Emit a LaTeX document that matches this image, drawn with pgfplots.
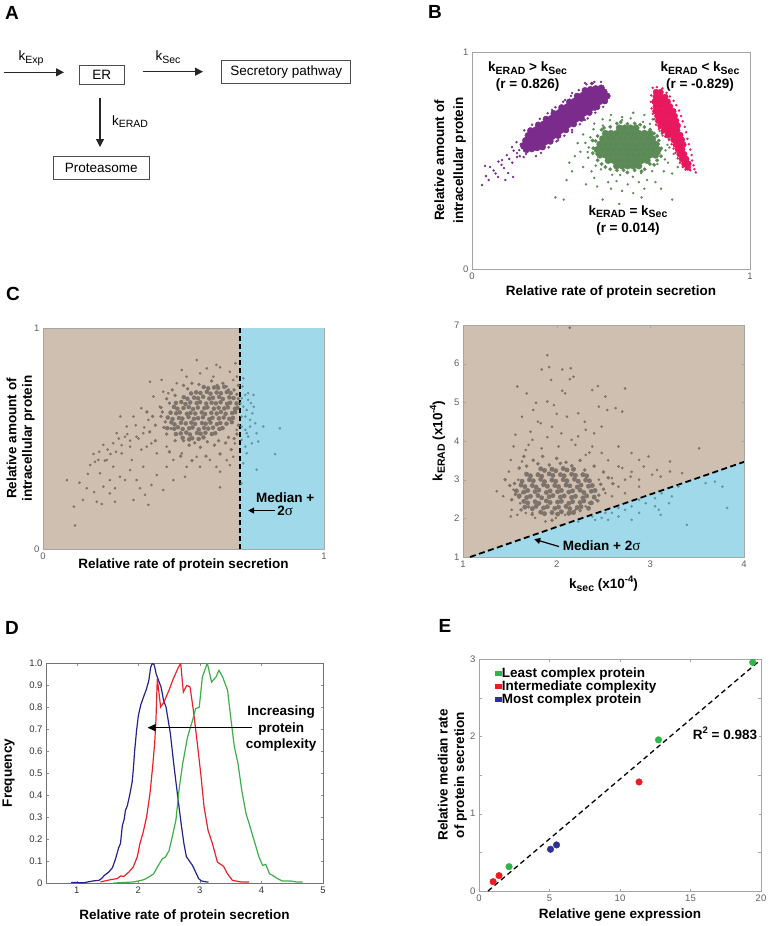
\documentclass[border=0pt]{standalone}
\usepackage{pgfplots}
\pgfplotsset{compat=1.18}
\usepackage{fontspec}
\setmainfont{Liberation Sans}
\newfontfamily\serifg{Liberation Serif}
\usetikzlibrary{arrows.meta}
\definecolor{tanc}{RGB}{206,191,176}
\definecolor{bluec}{RGB}{160,218,234}
\definecolor{dotc}{RGB}{125,115,106}
\definecolor{tealc}{RGB}{100,150,165}
\definecolor{purp}{RGB}{122,43,140}
\definecolor{gren}{RGB}{92,138,87}
\definecolor{pinkc}{RGB}{232,24,95}
\definecolor{dblue}{RGB}{35,35,140}
\definecolor{dred}{RGB}{232,35,40}
\definecolor{dgreen}{RGB}{60,175,75}
\definecolor{egreen}{RGB}{45,180,75}
\definecolor{ered}{RGB}{237,28,36}
\definecolor{eblue}{RGB}{46,49,146}
\definecolor{framec}{RGB}{165,165,165}
\definecolor{tickc}{RGB}{95,95,95}
\newcommand\lab{\fontsize{13.5}{15.5}\selectfont\bfseries}
\newcommand\dia{\fontsize{13.5}{15}\selectfont}
\newcommand\pl{\fontsize{19}{19}\selectfont\bfseries}
\newcommand\tickf{\fontsize{9.5}{10}\selectfont}
\newcommand\sub[1]{\raisebox{-0.35ex}{\fontsize{10.5}{10.5}\selectfont #1}}
\newcommand\sups[1]{\raisebox{0.85ex}{\fontsize{9.5}{9.5}\selectfont #1}}
\newcommand\sig{{\serifg\mdseries\fontsize{15}{15}\selectfont σ}}
\pgfplotsset{panel/.style={scale only axis, anchor=south west, axis line style={framec}, tick style={framec}, major tick length=2.5pt, tick label style={font=\tickf, text=tickc}, /pgf/number format/assume math mode=true, label style={font=\lab}}}
\begin{document}
\begin{tikzpicture}
\path[use as bounding box] (0pt,0pt) rectangle (770pt,-926pt);
% panel letters
\node[font=\pl] at (12pt,-13pt) {A};
\node[font=\pl] at (435pt,-12pt) {B};
\node[font=\pl] at (13pt,-294pt) {C};
\node[font=\pl] at (12pt,-628pt) {D};
\node[font=\pl] at (445pt,-626pt) {E};
% ---------- A diagram ----------
\draw[line width=1.1pt, draw=black!85, -{Triangle[length=8pt,width=8pt]}] (4pt,-72.3pt) -- (64pt,-72.3pt);
\node[font=\dia] at (31pt,-58pt) {k\sub{Exp}};
\node[draw=black!70, line width=0.8pt, minimum width=45pt, minimum height=19pt, inner sep=0pt, font=\dia] at (101.7pt,-74.7pt) {ER};
\draw[line width=1.1pt, draw=black!85, -{Triangle[length=8pt,width=8pt]}] (143pt,-71.7pt) -- (203pt,-71.7pt);
\node[font=\dia] at (168pt,-57pt) {k\sub{Sec}};
\node[draw=black!70, line width=0.8pt, minimum width=129pt, minimum height=22.5pt, inner sep=0pt, font=\dia] at (286.3pt,-72pt) {Secretory pathway};
\draw[line width=1.1pt, draw=black!85, -{Triangle[length=8pt,width=8pt]}] (100pt,-98pt) -- (100pt,-147pt);
\node[font=\dia] at (130pt,-121.7pt) {k\sub{ERAD}};
\node[draw=black!70, line width=0.8pt, minimum width=96pt, minimum height=22.5pt, inner sep=0pt, font=\dia] at (101.3pt,-168pt) {Proteasome};
% ---------- B ----------
\begin{axis}[panel, at={(472pt,-269pt)}, width=278pt, height=217pt, xmin=0, xmax=1, ymin=0, ymax=1, xtick={0,1}, ytick={0,1}, major tick length=0pt,
 xlabel={Relative rate of protein secretion}, xlabel style={at={(axis description cs:0.5,-0.106)}, anchor=center},
 ylabel={Relative amount of\\intracellular protein}, ylabel style={at={(axis description cs:-0.079,0.5)}, anchor=center, align=center, font=\fontsize{13.5}{19}\selectfont\bfseries}]
% green halo
\addplot[only marks, mark=*, mark size=1pt, color=gren] coordinates {
(0.703,0.572)(0.686,0.615)(0.675,0.636)(0.640,0.669)(0.615,0.678)(0.571,0.694)(0.540,0.687)(0.496,0.686)(0.471,0.661)(0.437,0.644)(0.426,0.607)(0.408,0.581)(0.416,0.539)(0.418,0.513)(0.445,0.476)(0.464,0.459)(0.504,0.434)(0.533,0.433)(0.579,0.425)(0.608,0.442)(0.648,0.451)(0.667,0.484)(0.694,0.505)(0.696,0.547)
(0.30,0.33)(0.33,0.32)(0.34,0.41)(0.41,0.39)(0.47,0.32)(0.72,0.32)(0.68,0.37)(0.705,0.49)(0.54,0.70)(0.38,0.58)(0.40,0.47)(0.37,0.52)(0.36,0.45)(0.44,0.42)(0.45,0.38)(0.50,0.37)(0.54,0.36)(0.58,0.35)(0.62,0.37)(0.66,0.40)(0.72,0.44)(0.725,0.53)(0.71,0.60)(0.62,0.71)(0.58,0.72)(0.50,0.71)(0.44,0.67)(0.40,0.62)(0.39,0.54)(0.43,0.45)(0.49,0.40)(0.56,0.39)(0.63,0.41)(0.69,0.45)(0.71,0.56)(0.69,0.64)(0.65,0.69)(0.47,0.69)(0.42,0.56)(0.52,0.405)(0.60,0.40)(0.35,0.49)(0.74,0.47)(0.53,0.30)(0.61,0.33)};
% green medium ring
\addplot[only marks, mark=*, mark size=1.7pt, color=gren] coordinates {
(0.681,0.556)(0.672,0.592)(0.666,0.613)(0.641,0.643)(0.620,0.654)(0.585,0.671)(0.559,0.669)(0.521,0.671)(0.497,0.655)(0.466,0.642)(0.452,0.613)(0.434,0.592)(0.436,0.557)(0.434,0.534)(0.452,0.501)(0.466,0.484)(0.497,0.460)(0.521,0.455)(0.559,0.445)(0.585,0.455)(0.621,0.460)(0.640,0.484)(0.666,0.501)(0.672,0.534)
(0.67,0.575)(0.655,0.625)(0.605,0.665)(0.535,0.677)(0.475,0.65)(0.445,0.59)(0.45,0.53)(0.48,0.47)(0.545,0.455)(0.61,0.45)(0.655,0.48)(0.68,0.52)};
% green core
\addplot[only marks, mark=*, mark size=3.3pt, color=gren] coordinates {
(0.52,0.475)(0.54,0.475)(0.56,0.475)(0.58,0.475)(0.60,0.475)
(0.49,0.50)(0.51,0.50)(0.53,0.50)(0.55,0.50)(0.57,0.50)(0.59,0.50)(0.61,0.50)(0.63,0.50)
(0.46,0.525)(0.48,0.525)(0.50,0.525)(0.52,0.525)(0.54,0.525)(0.56,0.525)(0.58,0.525)(0.60,0.525)(0.62,0.525)(0.64,0.525)(0.66,0.525)
(0.45,0.55)(0.47,0.55)(0.49,0.55)(0.51,0.55)(0.53,0.55)(0.55,0.55)(0.57,0.55)(0.59,0.55)(0.61,0.55)(0.63,0.55)(0.65,0.55)(0.67,0.55)
(0.46,0.575)(0.48,0.575)(0.50,0.575)(0.52,0.575)(0.54,0.575)(0.56,0.575)(0.58,0.575)(0.60,0.575)(0.62,0.575)(0.64,0.575)(0.66,0.575)
(0.47,0.60)(0.49,0.60)(0.51,0.60)(0.53,0.60)(0.55,0.60)(0.57,0.60)(0.59,0.60)(0.61,0.60)(0.63,0.60)(0.65,0.60)
(0.48,0.625)(0.50,0.625)(0.52,0.625)(0.54,0.625)(0.56,0.625)(0.58,0.625)(0.60,0.625)(0.62,0.625)(0.64,0.625)
(0.53,0.65)(0.55,0.65)(0.57,0.65)(0.59,0.65)};
% purple halo
\addplot[only marks, mark=*, mark size=1pt, color=purp] coordinates {
(0.188,0.639)(0.248,0.535)(0.216,0.665)(0.276,0.561)(0.244,0.692)(0.304,0.588)(0.272,0.718)(0.332,0.614)(0.300,0.745)(0.360,0.641)(0.328,0.771)(0.388,0.667)(0.356,0.798)(0.416,0.694)(0.384,0.824)(0.444,0.720)(0.412,0.851)(0.472,0.747)
(0.036,0.387)(0.047,0.475)(0.108,0.502)(0.094,0.424)(0.13,0.442)(0.12,0.41)(0.148,0.424)(0.144,0.562)(0.162,0.516)(0.18,0.557)(0.186,0.516)(0.20,0.54)(0.406,0.857)(0.44,0.862)(0.464,0.862)(0.486,0.80)(0.25,0.65)(0.227,0.627)(0.288,0.733)(0.335,0.779)(0.36,0.811)(0.31,0.594)(0.36,0.63)(0.406,0.687)(0.442,0.733)(0.188,0.594)(0.16,0.585)(0.23,0.52)(0.26,0.56)(0.29,0.60)(0.33,0.64)(0.37,0.68)(0.41,0.72)(0.45,0.76)(0.48,0.78)(0.21,0.62)(0.25,0.67)(0.28,0.70)(0.32,0.74)(0.39,0.80)(0.42,0.83)(0.35,0.78)
(0.162,0.534)(0.150,0.545)(0.172,0.520)(0.134,0.507)(0.145,0.49)(0.125,0.525)(0.106,0.48)(0.115,0.465)(0.095,0.495)(0.078,0.454)(0.085,0.44)(0.065,0.47)(0.05,0.428)(0.06,0.41)(0.175,0.575)(0.17,0.548)(0.195,0.53)};
% purple medium edge
\addplot[only marks, mark=*, mark size=1.7pt, color=purp] coordinates {
(0.207,0.643)(0.257,0.557)(0.263,0.696)(0.313,0.610)(0.319,0.749)(0.369,0.663)(0.375,0.802)(0.425,0.716)(0.431,0.855)(0.481,0.769)(0.235,0.669)(0.285,0.583)(0.291,0.722)(0.341,0.636)(0.347,0.775)(0.397,0.689)(0.403,0.828)(0.453,0.742)};
% purple core
\addplot[only marks, mark=*, mark size=3.3pt, color=purp] coordinates {
(0.185,0.569)(0.195,0.551)
(0.204,0.573)(0.193,0.592)(0.215,0.554)
(0.213,0.596)(0.223,0.578)(0.202,0.615)(0.234,0.559)
(0.232,0.600)(0.221,0.619)(0.243,0.581)(0.211,0.637)(0.253,0.563)
(0.241,0.622)(0.251,0.604)(0.230,0.641)(0.262,0.585)
(0.260,0.626)(0.249,0.645)(0.271,0.607)(0.239,0.663)(0.281,0.589)
(0.269,0.649)(0.279,0.631)(0.258,0.668)(0.290,0.612)
(0.288,0.653)(0.277,0.672)(0.299,0.634)(0.267,0.690)(0.309,0.616)
(0.297,0.675)(0.307,0.657)(0.286,0.694)(0.318,0.638)
(0.316,0.679)(0.305,0.698)(0.327,0.660)(0.295,0.716)(0.337,0.642)
(0.325,0.702)(0.335,0.684)(0.314,0.721)(0.346,0.665)
(0.344,0.706)(0.333,0.725)(0.355,0.687)(0.323,0.743)(0.365,0.669)
(0.353,0.728)(0.363,0.710)(0.342,0.747)(0.374,0.691)
(0.372,0.732)(0.361,0.751)(0.383,0.713)(0.351,0.769)(0.393,0.695)
(0.381,0.755)(0.391,0.737)(0.370,0.774)(0.402,0.718)
(0.400,0.759)(0.389,0.778)(0.411,0.740)(0.379,0.796)(0.421,0.722)
(0.409,0.781)(0.419,0.763)(0.398,0.800)(0.430,0.744)
(0.428,0.785)(0.417,0.804)(0.439,0.766)(0.407,0.822)(0.449,0.748)
(0.437,0.808)(0.447,0.790)(0.426,0.827)(0.458,0.771)
(0.456,0.812)(0.445,0.831)(0.467,0.793)(0.477,0.775)
(0.465,0.834)(0.475,0.816)(0.486,0.797)};
% pink halo
\addplot[only marks, mark=*, mark size=1pt, color=pinkc] coordinates {
(0.650,0.835)(0.665,0.838)(0.685,0.832)(0.700,0.812)(0.712,0.795)(0.725,0.775)(0.735,0.755)(0.745,0.730)(0.752,0.705)(0.758,0.68)(0.765,0.655)(0.770,0.63)(0.775,0.60)(0.780,0.575)(0.785,0.55)(0.790,0.525)(0.792,0.50)(0.797,0.478)(0.800,0.46)(0.645,0.80)(0.643,0.77)(0.646,0.74)(0.650,0.715)(0.655,0.69)(0.662,0.665)(0.672,0.645)(0.683,0.625)(0.695,0.61)(0.708,0.595)(0.718,0.575)(0.725,0.555)(0.732,0.535)(0.740,0.51)(0.748,0.49)(0.758,0.47)(0.768,0.458)(0.785,0.455)(0.805,0.445)};
% pink core
\addplot[only marks, mark=*, mark size=3.0pt, color=pinkc] coordinates {
(0.662,0.815)(0.678,0.815)
(0.661,0.793)(0.678,0.793)(0.695,0.793)
(0.657,0.771)(0.672,0.771)(0.688,0.771)(0.704,0.771)
(0.661,0.749)(0.678,0.749)(0.695,0.749)(0.712,0.749)
(0.660,0.727)(0.676,0.727)(0.692,0.727)(0.708,0.727)(0.724,0.727)
(0.667,0.705)(0.683,0.705)(0.699,0.705)(0.715,0.705)(0.729,0.705)
(0.670,0.683)(0.686,0.683)(0.702,0.683)(0.718,0.683)(0.734,0.683)
(0.678,0.661)(0.694,0.661)(0.710,0.661)(0.726,0.661)(0.740,0.661)
(0.690,0.639)(0.706,0.639)(0.722,0.639)(0.738,0.639)
(0.704,0.617)(0.720,0.617)(0.736,0.617)(0.749,0.617)
(0.725,0.595)(0.741,0.595)(0.755,0.595)
(0.733,0.573)(0.748,0.573)(0.760,0.573)
(0.741,0.551)(0.756,0.551)
(0.747,0.529)(0.763,0.529)
(0.755,0.507)(0.770,0.507)
(0.764,0.485)(0.778,0.485)
(0.776,0.468)};
\node[align=center, font=\fontsize{13.5}{17}\selectfont\bfseries] at (axis cs:0.20,0.887) {k\sub{ERAD} > k\sub{Sec}\\(r = 0.826)};
\node[align=center, font=\fontsize{13.5}{17}\selectfont\bfseries] at (axis cs:0.82,0.887) {k\sub{ERAD} < k\sub{Sec}\\(r = -0.829)};
\node[align=center, font=\fontsize{13.5}{17}\selectfont\bfseries] at (axis cs:0.561,0.2235) {k\sub{ERAD} = k\sub{Sec}\\(r = 0.014)};
\end{axis}
% ---------- C left ----------
\begin{axis}[panel, at={(43pt,-549pt)}, width=281pt, height=221pt, xmin=0, xmax=1, ymin=0, ymax=1, xtick={0,1}, ytick={0,1}, major tick length=0pt,
 axis background/.style={fill=tanc},
 xlabel={Relative rate of protein secretion}, xlabel style={at={(axis description cs:0.5,-0.072)}, anchor=center},
 ylabel={Relative amount of\\intracellular protein}, ylabel style={at={(axis description cs:-0.080,0.5)}, anchor=center, align=center, font=\fontsize{13.5}{15.5}\selectfont\bfseries}]
\addplot[fill=bluec, draw=none] coordinates {(0.7,0)(1,0)(1,1)(0.7,1)(0.7,0)};
\addplot[only marks, mark=*, mark size=1.1pt, color=dotc] coordinates {
(0.547,0.855)(0.617,0.833)(0.630,0.822)(0.381,0.757)(0.422,0.765)(0.494,0.810)(0.583,0.817)(0.665,0.802)(0.677,0.765)(0.428,0.712)(0.393,0.690)(0.350,0.637)(0.322,0.600)(0.298,0.554)(0.262,0.524)(0.250,0.479)(0.215,0.471)(0.197,0.403)(0.185,0.395)(0.168,0.380)(0.203,0.343)(0.238,0.312)(0.256,0.275)(0.292,0.312)(0.310,0.357)(0.345,0.275)(0.322,0.222)(0.363,0.245)(0.375,0.200)(0.428,0.267)(0.386,0.290)(0.464,0.312)(0.505,0.327)(0.559,0.372)(0.617,0.372)(0.630,0.350)(0.630,0.279)(0.654,0.402)(0.677,0.417)(0.464,0.403)(0.405,0.433)(0.369,0.463)(0.333,0.508)(0.292,0.508)(0.275,0.600)(0.085,0.312)(0.114,0.106)(0.110,0.192)(0.142,0.222)(0.156,0.275)(0.182,0.257)(0.191,0.214)(0.209,0.204)(0.238,0.252)(0.256,0.214)(0.215,0.282)(0.274,0.327)(0.250,0.372)(0.227,0.403)(0.280,0.433)(0.310,0.463)(0.357,0.524)(0.375,0.584)(0.416,0.644)(0.446,0.705)(0.476,0.750)(0.511,0.780)(0.559,0.795)(0.606,0.780)(0.654,0.735)(0.386,0.478)(0.440,0.463)(0.494,0.433)(0.547,0.417)(0.594,0.403)(0.665,0.380)(0.683,0.478)(0.689,0.539)(0.511,0.372)(0.440,0.372)(0.405,0.335)(0.357,0.372)(0.316,0.403)(0.333,0.312)
(0.36,0.55)(0.34,0.50)(0.31,0.49)(0.28,0.47)(0.26,0.44)(0.24,0.43)(0.22,0.40)(0.35,0.45)(0.2,0.44)(0.18,0.43)(0.16,0.34)(0.13,0.3)(0.33,0.56)(0.3,0.52)(0.27,0.50)(0.23,0.45)(0.69,0.78)(0.685,0.84)};
\addplot[only marks, mark=*, mark size=1.5pt, color=dotc] coordinates {
(0.43,0.55)(0.44,0.68)(0.46,0.72)(0.50,0.74)(0.53,0.75)(0.60,0.76)(0.64,0.75)(0.68,0.72)(0.69,0.70)(0.44,0.52)(0.47,0.49)(0.52,0.47)(0.56,0.46)(0.61,0.47)(0.65,0.48)(0.68,0.50)(0.42,0.60)(0.42,0.64)(0.40,0.56)(0.38,0.53)(0.40,0.49)(0.45,0.44)(0.49,0.42)(0.53,0.40)(0.58,0.42)(0.63,0.43)(0.67,0.45)
(0.435,0.575)(0.425,0.62)(0.45,0.66)(0.47,0.695)(0.515,0.725)(0.555,0.745)(0.62,0.74)(0.66,0.72)(0.695,0.68)(0.695,0.56)(0.69,0.52)(0.66,0.505)(0.625,0.49)(0.585,0.485)(0.54,0.48)(0.5,0.49)(0.475,0.52)(0.455,0.545)(0.39,0.60)(0.37,0.62)(0.695,0.74)};
\addplot[only marks, mark=*, mark size=2.0pt, color=dotc] coordinates {
(0.497,0.503)(0.520,0.496)(0.531,0.501)(0.554,0.498)(0.571,0.505)
(0.473,0.520)(0.490,0.523)(0.510,0.527)(0.523,0.518)(0.548,0.525)(0.561,0.522)(0.578,0.526)(0.601,0.520)(0.613,0.524)
(0.442,0.547)(0.467,0.544)(0.480,0.551)(0.497,0.543)(0.520,0.546)(0.532,0.550)(0.554,0.541)(0.573,0.548)(0.588,0.545)(0.605,0.549)(0.628,0.543)(0.639,0.547)
(0.457,0.573)(0.468,0.564)(0.491,0.571)(0.508,0.568)(0.528,0.572)(0.541,0.566)(0.566,0.570)(0.579,0.567)(0.596,0.572)(0.619,0.565)(0.631,0.570)(0.653,0.567)(0.672,0.574)
(0.444,0.595)(0.461,0.588)(0.484,0.593)(0.496,0.590)(0.518,0.597)(0.537,0.589)(0.552,0.592)(0.569,0.596)(0.592,0.587)(0.603,0.594)(0.626,0.591)(0.643,0.595)(0.663,0.589)(0.676,0.593)
(0.454,0.617)(0.474,0.614)(0.487,0.618)(0.512,0.612)(0.525,0.616)(0.542,0.613)(0.565,0.618)(0.577,0.611)(0.599,0.616)(0.618,0.613)(0.633,0.620)(0.650,0.612)(0.673,0.615)(0.684,0.619)
(0.466,0.643)(0.478,0.635)(0.500,0.638)(0.519,0.642)(0.534,0.633)(0.551,0.640)(0.574,0.637)(0.585,0.641)(0.608,0.635)(0.625,0.639)(0.645,0.636)(0.658,0.641)(0.683,0.634)(0.692,0.639)
(0.473,0.661)(0.492,0.665)(0.507,0.656)(0.524,0.663)(0.547,0.660)(0.559,0.664)(0.581,0.658)(0.600,0.662)(0.615,0.659)(0.632,0.664)(0.655,0.657)(0.666,0.662)(0.689,0.659)
(0.501,0.687)(0.514,0.680)(0.538,0.685)(0.552,0.682)(0.570,0.689)(0.592,0.681)(0.605,0.684)(0.627,0.688)(0.640,0.679)(0.663,0.686)(0.678,0.683)
(0.527,0.704)(0.545,0.709)(0.560,0.706)(0.583,0.711)(0.596,0.703)(0.618,0.708)(0.633,0.705)(0.654,0.710)(0.668,0.706)
(0.572,0.733)(0.588,0.727)(0.609,0.731)(0.623,0.729)(0.645,0.734)};
\addplot[only marks, mark=*, mark size=1.1pt, color=tealc] coordinates {
(0.713,0.772)(0.71,0.735)(0.72,0.697)(0.73,0.675)(0.74,0.66)(0.745,0.614)(0.725,0.629)(0.713,0.644)(0.707,0.599)(0.737,0.584)(0.755,0.569)(0.76,0.524)(0.73,0.509)(0.72,0.539)(0.707,0.494)(0.72,0.463)(0.743,0.478)(0.766,0.486)(0.784,0.554)(0.843,0.546)(0.826,0.429)(0.76,0.359)(0.725,0.433)(0.713,0.388)(0.707,0.297)(0.72,0.599)(0.737,0.554)(0.75,0.644)(0.73,0.705)(0.707,0.682)(0.749,0.697)(0.707,0.554)(0.725,0.524)(0.703,0.659)};
\addplot[black, line width=1.6pt, dash pattern=on 5pt off 3pt] coordinates {(0.7,0)(0.7,1)};
\node[align=center, font=\fontsize{13.5}{13.3}\selectfont\bfseries] at (axis cs:0.862,0.203) {Median +\\2\sig};
\draw[line width=1.1pt, -{Triangle[length=6pt,width=6pt]}] (axis cs:0.826,0.174) -- (axis cs:0.730,0.174);
\end{axis}
% ---------- C right ----------
\begin{axis}[panel, at={(463pt,-557pt)}, width=281pt, height=232pt, xmin=1, xmax=4, ymin=1, ymax=7, xtick={1,2,3,4}, ytick={1,2,3,4,5,6,7},
 axis background/.style={fill=tanc},
 xlabel={k\sub{sec} (x10\sups{-4})}, xlabel style={at={(axis description cs:0.5,-0.116)}, anchor=center},
 ylabel={k\sub{ERAD} (x10\sups{-4})}, ylabel style={at={(axis description cs:-0.091,0.5)}, anchor=center}]
\addplot[fill=bluec, draw=none] coordinates {(1.075,1)(4,1)(4,3.46)(1.075,1)};
\addplot[only marks, mark=*, mark size=1.1pt, color=dotc] coordinates {
(2.14,6.93)(1.90,6.22)(1.92,5.91)(1.84,5.85)(1.94,5.58)(2.06,5.85)(2.15,5.88)(2.14,5.60)(2.18,5.66)(2.06,5.30)(2.09,5.23)(1.97,4.93)(1.90,5.02)(1.78,4.99)(1.68,5.23)(1.58,5.41)(1.63,4.63)(1.72,4.24)(1.83,4.46)(1.95,4.37)(2.11,4.63)(2.23,4.72)(2.31,4.29)(2.45,4.89)(2.38,5.32)(2.44,5.42)(2.52,5.15)(2.54,4.80)(2.63,4.85)(2.70,4.76)(2.73,5.36)(2.48,4.37)(2.40,4.20)(2.23,4.12)(1.56,4.16)(1.54,3.86)(1.51,3.51)(1.49,3.21)(1.36,2.70)(1.43,2.57)(1.54,2.74)(1.52,2.22)(1.51,2.05)(1.58,2.09)(1.74,2.14)(2.66,3.86)(2.80,3.69)(2.88,3.51)(2.93,3.34)(3.02,3.13)(3.11,3.08)(3.21,3.21)(3.34,3.17)(3.52,3.81)(3.21,3.47)(3.07,3.25)(2.98,3.60)(2.79,3.08)(2.66,3.34)(2.48,3.69)(2.38,3.86)(2.31,3.64)(2.16,4.03)(2.02,3.86)(1.84,3.81)(1.74,4.03)(1.67,3.77)(1.63,3.47)(1.67,3.17)(1.59,3.00)(1.63,2.65)(1.61,2.39)(1.67,2.14)(1.77,2.01)(1.88,1.92)(1.99,2.01)(2.09,2.09)(2.66,2.82)(2.52,2.65)(2.45,3.00)(2.59,3.04)(2.73,3.00)(2.88,3.00)(2.88,2.82)(2.73,2.65)(2.31,2.31)(2.20,2.22)(2.42,2.48)(2.59,2.57)
(1.7,3.9)(1.9,4.1)(2.05,4.2)(2.2,3.9)(2.35,3.7)(2.55,3.5)(2.7,3.3)(2.8,3.2)(1.8,4.5)(2.0,4.7)(2.3,4.5)(1.75,4.8)};
\addplot[only marks, mark=*, mark size=1.6pt, color=dotc] coordinates {
(1.55,2.9)(1.6,3.3)(1.65,3.6)(1.75,3.5)(1.85,3.6)(2.0,3.55)(2.1,3.45)(2.25,3.5)(2.4,3.35)(2.5,3.2)(2.55,3.05)(2.6,2.9)(2.5,2.75)(2.45,2.6)(2.35,2.4)(2.25,2.2)(2.15,2.15)(1.95,1.95)(1.7,2.3)(1.6,2.55)(1.5,2.85)(1.45,3.0)(1.80,3.41)(1.92,3.38)(2.04,3.42)(2.16,3.36)(1.68,3.35)(2.3,3.25)(1.56,2.62)(1.52,2.48)(1.62,2.22)(1.74,2.10)(2.47,2.88)(2.44,2.45)};
\addplot[only marks, mark=*, mark size=2.2pt, color=dotc] coordinates {
(1.83,2.16)(1.87,2.12)(1.95,2.15)(2.01,2.11)(2.05,2.17)(2.13,2.13)(2.18,2.15)
(1.66,2.29)(1.74,2.25)(1.78,2.31)(1.86,2.27)(1.90,2.30)(1.98,2.26)(2.02,2.29)(2.10,2.31)(2.14,2.25)(2.22,2.28)(2.26,2.30)(2.34,2.26)
(1.65,2.44)(1.69,2.40)(1.77,2.43)(1.81,2.39)(1.89,2.45)(1.93,2.41)(2.01,2.42)(2.05,2.44)(2.13,2.39)(2.17,2.43)(2.25,2.41)(2.29,2.45)(2.37,2.40)
(1.60,2.58)(1.68,2.54)(1.72,2.57)(1.80,2.59)(1.84,2.53)(1.92,2.56)(1.96,2.59)(2.04,2.55)(2.08,2.58)(2.16,2.54)(2.20,2.57)(2.28,2.53)(2.32,2.58)(2.40,2.55)
(1.57,2.71)(1.65,2.68)(1.69,2.72)(1.77,2.69)(1.81,2.73)(1.89,2.67)(1.93,2.71)(2.01,2.69)(2.05,2.72)(2.13,2.68)(2.17,2.71)(2.25,2.73)(2.29,2.67)(2.37,2.70)(2.41,2.72)
(1.62,2.86)(1.66,2.82)(1.74,2.85)(1.78,2.81)(1.86,2.87)(1.90,2.83)(1.98,2.85)(2.02,2.82)(2.10,2.86)(2.14,2.84)(2.22,2.81)(2.26,2.86)(2.34,2.83)(2.38,2.85)
(1.63,2.96)(1.71,3.00)(1.75,2.97)(1.83,3.01)(1.87,2.95)(1.95,2.99)(1.99,2.96)(2.07,3.00)(2.11,2.97)(2.19,3.01)(2.23,2.96)(2.31,2.99)(2.35,2.97)
(1.68,3.14)(1.72,3.10)(1.80,3.13)(1.84,3.09)(1.92,3.15)(1.96,3.11)(2.04,3.13)(2.08,3.10)(2.16,3.14)(2.20,3.11)(2.28,3.13)(2.32,3.10)
(1.83,3.28)(1.87,3.24)(1.95,3.27)(1.99,3.23)(2.07,3.29)(2.11,3.25)(2.18,3.27)};
\addplot[only marks, mark=*, mark size=1.1pt, color=tealc] coordinates {
(2.23,1.92)(2.38,2.05)(2.52,2.14)(2.66,2.27)(2.80,2.31)(2.95,2.39)(3.05,2.52)(3.12,2.65)(3.11,2.09)(3.09,2.22)(2.88,2.14)(2.73,2.22)(2.59,2.14)(2.48,2.01)(2.41,1.96)(2.55,1.96)(2.66,2.05)(3.39,1.83)(3.69,2.95)(3.77,2.82)(3.82,2.27)(3.59,2.91)(3.30,2.82)(3.23,2.57)(2.80,1.96)(2.88,2.48)(3.05,2.31)(3.20,2.39)};
\addplot[black, line width=1.8pt, dash pattern=on 6pt off 3.5pt] coordinates {(1.075,1)(4,3.46)};
\node[font=\lab] at (axis cs:2.48,1.29) {Median + 2\sig};
\draw[line width=1.2pt, -{Triangle[length=6pt,width=6pt]}] (axis cs:2.025,1.27) -- (axis cs:1.76,1.46);
\end{axis}
% ---------- D ----------
\begin{axis}[panel, at={(46pt,-883pt)}, width=277pt, height=220pt, xmin=0.5, xmax=5, ymin=0, ymax=1,
 xtick={1,2,3,4,5}, ytick={0,0.1,0.2,0.3,0.4,0.5,0.6,0.7,0.8,0.9,1}, yticklabels={0,0.1,0.2,0.3,0.4,0.5,0.6,0.7,0.8,0.9,1.0},
 axis line style={black!55}, tick style={black!45}, tick label style={text=black!80},
 xlabel={Relative rate of protein secretion}, xlabel style={at={(axis description cs:0.5,-0.148)}, anchor=center},
 ylabel={Frequency}, ylabel style={at={(axis description cs:-0.135,0.5)}, anchor=center}]
\addplot[dblue, line width=1.2pt] coordinates {
(0.91,0.003)(1.00,0.002)(1.11,0.001)(1.20,0.006)(1.28,0.010)(1.36,0.012)(1.40,0.020)(1.45,0.035)(1.52,0.05)(1.58,0.07)(1.63,0.11)(1.68,0.16)(1.71,0.18)(1.74,0.26)(1.77,0.29)(1.79,0.33)(1.82,0.35)(1.86,0.40)(1.90,0.46)(1.92,0.52)(1.94,0.60)(1.97,0.69)(2.00,0.76)(2.04,0.81)(2.09,0.85)(2.13,0.88)(2.17,0.92)(2.20,0.98)(2.23,1.00)(2.26,0.99)(2.29,0.95)(2.33,0.92)(2.37,0.89)(2.41,0.83)(2.45,0.80)(2.52,0.68)(2.58,0.53)(2.65,0.37)(2.70,0.26)(2.74,0.18)(2.78,0.12)(2.83,0.10)(2.88,0.08)(2.93,0.05)(2.98,0.02)(3.02,0.01)(3.08,0.006)(3.14,0.004)};
\addplot[dred, line width=1.2pt] coordinates {
(1.385,0.005)(1.548,0.015)(1.657,0.02)(1.711,0.032)(1.765,0.03)(1.847,0.05)(1.917,0.073)(1.982,0.118)(2.026,0.179)(2.080,0.232)(2.134,0.30)(2.189,0.406)(2.232,0.527)(2.265,0.633)(2.286,0.739)(2.308,0.929)(2.362,0.80)(2.417,0.823)(2.498,0.876)(2.569,0.929)(2.634,0.97)(2.688,1.0)(2.731,0.868)(2.786,0.898)(2.840,0.891)(2.894,0.785)(2.959,0.633)(3.014,0.497)(3.068,0.345)(3.133,0.239)(3.204,0.179)(3.285,0.095)(3.383,0.076)(3.448,0.042)(3.529,0.012)(3.665,0.005)(3.800,0.005)};
\addplot[dgreen, line width=1.2pt] coordinates {
(1.60,0.0)(1.75,0.002)(1.93,0.005)(2.09,0.015)(2.17,0.027)(2.25,0.042)(2.31,0.073)(2.39,0.11)(2.44,0.118)(2.50,0.148)(2.55,0.209)(2.61,0.285)(2.66,0.421)(2.72,0.542)(2.80,0.664)(2.88,0.739)(2.93,0.792)(2.99,0.80)(3.04,0.936)(3.12,1.0)(3.19,0.914)(3.26,0.936)(3.31,0.967)(3.37,0.936)(3.45,0.876)(3.50,0.755)(3.56,0.618)(3.62,0.542)(3.68,0.421)(3.75,0.315)(3.80,0.27)(3.88,0.194)(3.96,0.118)(4.02,0.08)(4.07,0.085)(4.13,0.042)(4.18,0.035)(4.26,0.02)(4.34,0.009)(4.48,0.009)(4.56,0.005)(4.67,0.005)};
\draw[line width=1.4pt, -{Triangle[length=8pt,width=7pt]}] (axis cs:3.84,0.706) -- (axis cs:2.15,0.706);
\node[align=center, font=\fontsize{13.5}{16.7}\selectfont\bfseries] at (axis cs:4.32,0.702) {Increasing\\protein\\complexity};
\end{axis}
% ---------- E ----------
\begin{axis}[panel, at={(479pt,-891pt)}, width=282pt, height=232pt, xmin=0, xmax=20, ymin=0, ymax=3,
 xtick={0,5,10,15,20}, ytick={0,1,2,3}, minor y tick num=1, legend cell align=left,
 legend style={at={(axis description cs:0.045,0.975)}, anchor=north west, draw=none, fill=none, font=\lab, row sep=0.5pt, nodes={inner sep=0.6pt}},
 xlabel={Relative gene expression}, xlabel style={at={(axis description cs:0.5,-0.103)}, anchor=center},
 ylabel={Relative median rate\\of protein secretion}, ylabel style={at={(axis description cs:-0.094,0.5)}, anchor=center, align=center, font=\fontsize{13.5}{16.5}\selectfont\bfseries}]
\addlegendimage{legend image code/.code={\fill[egreen] (0pt,-1.8pt) rectangle (6pt,1.8pt);}}
\addlegendentry{Least complex protein}
\addlegendimage{legend image code/.code={\fill[ered] (0pt,-1.8pt) rectangle (6pt,1.8pt);}}
\addlegendentry{Intermediate complexity}
\addlegendimage{legend image code/.code={\fill[eblue] (0pt,-1.8pt) rectangle (6pt,1.8pt);}}
\addlegendentry{Most complex protein}
\addplot[black, line width=1.3pt, dash pattern=on 5pt off 3.5pt, forget plot] coordinates {(0.64,0)(19.85,2.97)};
\addplot[only marks, mark=*, mark size=3.3pt, color=egreen, forget plot] coordinates {(2.13,0.315)(12.73,1.955)(19.41,2.957)};
\addplot[only marks, mark=*, mark size=3.3pt, color=ered, forget plot] coordinates {(1.0,0.121)(1.42,0.199)(11.35,1.41)};
\addplot[only marks, mark=*, mark size=3.3pt, color=eblue, forget plot] coordinates {(5.07,0.54)(5.50,0.596)};
\node[font=\lab] at (axis cs:17.45,2.04) {R\sups{2} = 0.983};
\end{axis}
\end{tikzpicture}
\end{document}
